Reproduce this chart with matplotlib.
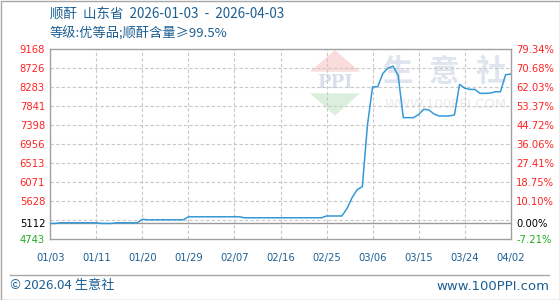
import matplotlib
matplotlib.use("Agg", force=True)

import matplotlib.pyplot as plt
from matplotlib.patches import Polygon, Rectangle
from matplotlib.lines import Line2D

# daily price, 2026-01-03 .. 2026-04-03 (yuan/ton)
prices = [
    5112, 5112, 5128, 5128, 5128, 5128, 5128, 5128, 5128, 5128,
    5112, 5112, 5112, 5128, 5128, 5128, 5128, 5128, 5210, 5198,
    5198, 5198, 5198, 5198, 5198, 5198, 5198, 5267, 5267, 5267,
    5267, 5267, 5267, 5267, 5267, 5267, 5267, 5267, 5244, 5244,
    5244, 5244, 5244, 5244, 5244, 5244, 5244, 5244, 5244, 5244,
    5244, 5244, 5244, 5244, 5286, 5286, 5286, 5286, 5460, 5715,
    5900, 5970, 7407, 8295, 8295, 8605, 8728, 8775, 8560, 7576,
    7576, 7576, 7650, 7771, 7755, 7662, 7615, 7615, 7615, 7640,
    8350, 8264, 8234, 8234, 8142, 8142, 8148, 8179, 8179, 8577,
    8590,
]
x_tick_pos = [0, 9, 18, 27, 36, 45, 54, 63, 72, 81, 90]
x_tick_labels = ["01/03", "01/11", "01/20", "01/29", "02/07", "02/16",
                 "02/25", "03/06", "03/15", "03/24", "04/02"]
y_ticks = [9168, 8726, 8283, 7841, 7398, 6956, 6513, 6071, 5628, 5112, 4743]
pct_labels = ["79.34%", "70.68%", "62.03%", "53.37%", "44.72%", "36.06%",
              "27.41%", "18.75%", "10.10%", "0.00%", "-7.21%"]
grid_levels = [8726, 8283, 7841, 7398, 6956, 6513, 6071, 5628, 5185]
base_price = 5112

title = "顺酐  山东省  2026-01-03  -  2026-04-03"
subtitle = "等级:优等品;顺酐含量≥99.5%"

W, H = 560, 300
blue_text = "#1d5f93"
red = "#ff2222"
green = "#22aa22"
cjk = ["Noto Sans CJK SC", "DejaVu Sans"]


def fx(px):
    return px / W


def fy(py):
    return 1 - py / H


fig = plt.figure(figsize=(W / 100, H / 100), dpi=100)
fig.patch.set_facecolor("white")

# outer frame of the image
fig.add_artist(Rectangle((fx(0.5), fy(299.5)), fx(559), 1 - fy(299), transform=fig.transFigure,
                         fill=False, edgecolor="#a8a8a8", lw=1.0))

left, right, top, bottom = 50.3, 510.7, 49.3, 239.3
ax = fig.add_axes([fx(left), fy(bottom), fx(right - left), (bottom - top) / H])
ax.set_xlim(0, len(prices) - 1)
ax.set_ylim(min(y_ticks), max(y_ticks))

# watermark
fig.add_artist(Polygon([(fx(310), fy(71.7)), (fx(360), fy(71.7)), (fx(335), fy(50))],
                       closed=True, transform=fig.transFigure, facecolor="#fadcdc",
                       edgecolor="none", zorder=0.5))
fig.add_artist(Polygon([(fx(310), fy(93.3)), (fx(360), fy(93.3)), (fx(335), fy(115.7))],
                       closed=True, transform=fig.transFigure, facecolor="#dcefdd",
                       edgecolor="none", zorder=0.5))
fig.text(fx(335), fy(83), "PPI", ha="center", va="center", fontsize=13,
         family="DejaVu Serif", weight="bold", color="#d9deea", zorder=0.6)
for ch, cx in zip("生意社", [397, 444, 491]):
    fig.text(fx(cx), fy(72), ch, ha="center", va="center", fontsize=22,
             family=cjk, weight="bold", color="#dfe4ee", zorder=0.6)
fig.text(fx(446), fy(105), "WWW.100PPI.COM", ha="center", va="center",
         fontsize=9.5, color="#eaeaea", zorder=0.6)

ax.set_facecolor("none")
ax.set_zorder(1)

for g in grid_levels:
    ax.axhline(g, color="#c8c8c8", lw=0.8, ls=(0, (3, 2)), zorder=1)
for xp in x_tick_pos[1:-1]:
    ax.axvline(xp, color="#c8c8c8", lw=0.8, ls=(0, (3, 2)), zorder=1)
ax.axhline(base_price, color="#999999", lw=1.0, zorder=2)

ax.plot(range(len(prices)), prices, color="#3598d8", lw=1.1, zorder=3)

for sp in ax.spines.values():
    sp.set_color("#a0a0a0")
    sp.set_linewidth(1.0)

ax.set_xticks(x_tick_pos)
ax.set_xticklabels(x_tick_labels, fontsize=7.2, color=blue_text)
ax.set_yticks(y_ticks)
ax.set_yticklabels([str(v) for v in y_ticks], fontsize=7.2)
ax.tick_params(length=0)
ax.tick_params(axis="x", pad=10)
ax.tick_params(axis="y", pad=22)
for lab in ax.get_yticklabels():
    lab.set_horizontalalignment("left")
for lab, v in zip(ax.get_yticklabels(), y_ticks):
    lab.set_color(red if v > base_price else ("black" if v == base_price else green))

ax2 = ax.twinx()
ax2.set_ylim(ax.get_ylim())
ax2.set_yticks(y_ticks)
ax2.set_yticklabels(pct_labels, fontsize=7.2)
ax2.tick_params(length=0, pad=4)
for sp in ax2.spines.values():
    sp.set_visible(False)
for lab, v in zip(ax2.get_yticklabels(), y_ticks):
    lab.set_color(red if v > base_price else ("black" if v == base_price else green))

# titles
fig.text(fx(50), fy(15), title, ha="left", va="center", fontsize=9.7,
         family=cjk, color=blue_text)
fig.text(fx(50), fy(34), subtitle, ha="left", va="center", fontsize=9.5,
         family=cjk, color=blue_text)

# footer
fig.add_artist(Line2D([fx(10), fx(549)], [fy(274.5), fy(274.5)], transform=fig.transFigure,
                      color="#a8a8a8", lw=1.0))
fig.text(fx(10), fy(286), "© 2026.04 生意社", ha="left", va="center", fontsize=9.5,
         family=cjk, color=blue_text)
fig.text(fx(549), fy(286), "www.100PPI.com", ha="right", va="center", fontsize=9.5,
         color=blue_text)

fig.savefig("out.png", dpi=100)
plt.close(fig)
